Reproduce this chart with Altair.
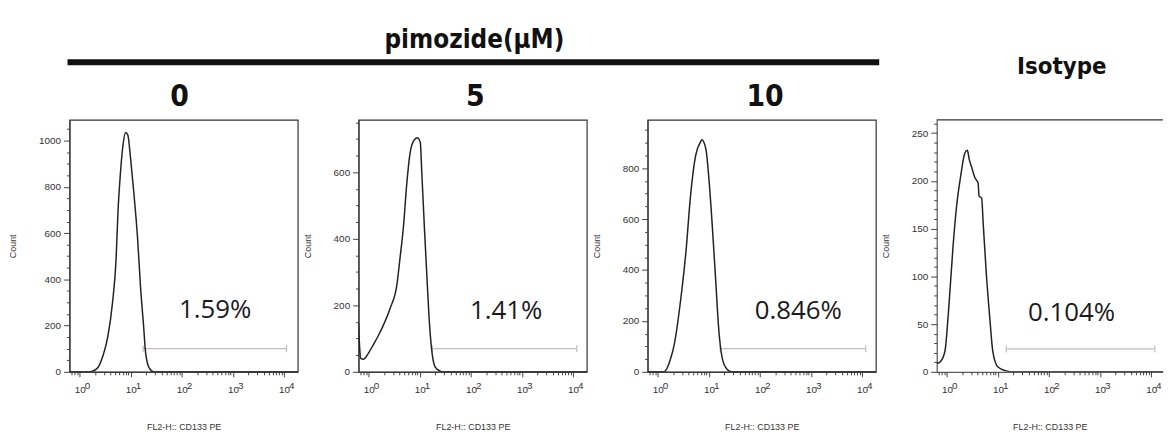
import altair as alt
import pandas as pd

# ---------------- data ----------------
header_title = "pimozide(μM)"
panel_titles = ["0", "5", "10", "Isotype"]
pct_labels = ["1.59%", "1.41%", "0.846%", "0.104%"]
x_title = "FL2-H:: CD133 PE"
y_title = "Count"

# decade tick labels (10^k) on the log axis
decade_fl = [1, 10, 100, 1000, 10000]
decade_exp = ["0", "1", "2", "3", "4"]

# histogram: FL2-H intensity (log axis) and event count
p1_fl = [0.63, 1.55, 2.24, 2.82, 3.55, 4.37, 5.13, 5.62, 6.17, 6.92, 7.94, 8.71,
         10.0, 11.5, 13.5, 15.5, 17.8, 19.5, 22.9, 28.2, 18600]
p1_count = [0, 0, 17, 67, 153, 297, 482, 697, 840, 968, 1035, 1025,
            912, 770, 584, 367, 197, 82, 17, 0, 0]

p2_fl = [0.63, 0.66, 0.70, 0.79, 1.0, 1.23, 1.55, 1.95, 2.63, 3.55, 4.07, 4.79, 5.50,
         6.46, 7.59, 8.91, 10.2, 10.9, 12.3, 13.8, 15.5, 17.4, 19.9, 24.5, 28.8, 18600]
p2_count = [145, 75, 40, 38, 58, 82, 110, 142, 192, 262, 340, 440, 560,
            660, 695, 704, 690, 600, 430, 280, 140, 55, 15, 3, 0, 0]

p3_fl = [0.63, 1.32, 1.78, 2.09, 2.82, 3.55, 4.37, 5.50, 6.92, 7.24, 8.71, 10.0,
         11.5, 13.5, 15.5, 18.2, 22.9, 28.2, 18600]
p3_count = [0, 0, 52, 107, 289, 472, 693, 850, 905, 912, 876, 758,
            589, 367, 172, 55, 9, 0, 0]

p4_fl = [0.63, 0.72, 0.91, 1.07, 1.32, 1.55, 1.86, 2.24, 2.51, 2.75, 3.02, 3.55,
         4.07, 4.27, 4.79, 5.13, 5.89, 6.92, 7.94, 10.0, 14.5, 20.0, 18600]
p4_count = [9, 10, 21, 62, 132, 174, 205, 229, 232, 222, 215, 203,
            198, 184, 182, 156, 104, 56, 21, 5, 1, 0, 0]

gate_lo = [17.4, 17.4, 16.6, 14.5]
gate_hi = [11200, 11800, 11800, 11800]
gate_level = [100, 70, 91, 24]

pct_fl = [447, 490, 562, 275]
pct_count = [266, 182, 238, 62]

y_max = [1090, 758, 990, 264]
y_major = [200, 200, 200, 50]
y_minor = [50, 50, 50, 10]
x_min = 0.63
x_max = [18600, 18600, 18600, 17000]

hist_fl = [p1_fl, p2_fl, p3_fl, p4_fl]
hist_count = [p1_count, p2_count, p3_count, p4_count]

# ---------------- styling ----------------
PANEL_W = [230, 230, 230, 228]
PANEL_H = 254
LINE_COLOR = "#222222"
GATE_COLOR = "#c6bcbc"
AXIS_FONT = "Liberation Sans"
HEAD_FONT = "DejaVu Sans Condensed, Open Sans"

x_ticks = [m * 10 ** k for k in range(-1, 5) for m in range(1, 10)
           if x_min <= m * 10 ** k <= 18600]
LOGV = "log(datum.value)/LN10"
IS_POW = f"abs({LOGV} - round({LOGV})) < 0.001"


def panel(i):
    hist = pd.DataFrame({"fl": hist_fl[i], "count": hist_count[i]})
    gate = pd.DataFrame({"fl": [gate_lo[i]], "fl2": [gate_hi[i]], "count": [gate_level[i]]})
    caps = pd.DataFrame({"fl": [gate_lo[i], gate_hi[i]], "count": [gate_level[i]] * 2})
    pct = pd.DataFrame({"fl": [pct_fl[i]], "count": [pct_count[i]], "label": [pct_labels[i]]})
    dec = pd.DataFrame({"fl": decade_fl, "exp": decade_exp})

    major, minor = y_major[i], y_minor[i]
    y_ticks = list(range(0, int(y_max[i]) + 1, minor))

    xaxis = alt.Axis(
        values=x_ticks, labelExpr=f"({IS_POW}) ? '10' : ''", labelOverlap=False,
        labelFlush=False, labelBound=False, labelAngle=0, labelAlign="center",
        labelBaseline="top", labelPadding=8, labelFontSize=10, labelColor="#333",
        tickSize={"condition": {"test": IS_POW, "value": 5}, "value": 3},
        tickColor="#444", domainColor="#333", grid=False,
        title=x_title, titleFontSize=9, titleFontWeight="normal", titleColor="#333",
        titlePadding=28,
    )
    yaxis = alt.Axis(
        values=y_ticks, format="d",
        labelExpr=f"datum.value % {major} == 0 ? datum.label : ''",
        labelOverlap=False, labelFontSize=10, labelColor="#333", labelPadding=3,
        tickSize={"condition": {"test": f"datum.value % {major} == 0", "value": 6}, "value": 3},
        tickColor="#444", domainColor="#333", grid=False,
        title=y_title, titleFontSize=9, titleFontWeight="normal", titleColor="#333",
        titlePadding=21,
    )
    X = alt.X("fl:Q", scale=alt.Scale(type="log", domain=[x_min, x_max[i]], nice=False), axis=xaxis)
    Y = alt.Y("count:Q", scale=alt.Scale(domain=[0, y_max[i]], nice=False), axis=yaxis)

    g = alt.Chart(gate).mark_rule(color=GATE_COLOR, strokeWidth=1.2).encode(x=X, x2="fl2:Q", y=Y)
    c = alt.Chart(caps).mark_tick(orient="vertical", size=7, thickness=1.2,
                                  color=GATE_COLOR, opacity=1).encode(x=X, y=Y)
    ln = alt.Chart(hist).mark_line(color=LINE_COLOR, strokeWidth=1.5,
                                   interpolate="monotone", clip=True).encode(x=X, y=Y)
    t = alt.Chart(pct).mark_text(font="Open Sans", fontSize=26, color="#1a1a1a",
                                 align="center", baseline="middle").encode(x=X, y=Y, text="label:N")
    ex = alt.Chart(dec).mark_text(font=AXIS_FONT, fontSize=10, color="#333", align="left",
                                  baseline="top", dx=5).encode(
        x=X, y=alt.value(PANEL_H + 9), text="exp:N")
    layers = [g, c, ln, t, ex]
    if i == 3:
        top = alt.Chart(pct).mark_rule(color="#333", strokeWidth=1.2).encode(
            x=alt.value(0), x2=alt.value(PANEL_W[i]), y=alt.value(0))
        layers.append(top)
        return alt.layer(*layers).properties(
            width=PANEL_W[i], height=PANEL_H,
            view=alt.ViewBackground(stroke="transparent"))
    return alt.layer(*layers).properties(width=PANEL_W[i], height=PANEL_H)


# ---------------- header ----------------
hdr_df = pd.DataFrame({"label": [header_title] + panel_titles})


def hdr_text(label, x, y, size):
    return alt.Chart(hdr_df).transform_filter(alt.datum.label == label).mark_text(
        font=HEAD_FONT, fontWeight="bold", fontSize=size, color="#111",
        align="center", baseline="middle").encode(
        text="label:N", x=alt.value(x), y=alt.value(y))


bar = alt.Chart(hdr_df).transform_filter(alt.datum.label == header_title).mark_rule(
    color="#111", strokeWidth=6).encode(x=alt.value(-2), x2=alt.value(816), y=alt.value(52))

header = alt.layer(
    bar,
    hdr_text(header_title, 408, 30, 26),
    hdr_text(panel_titles[0], 111, 87, 30),
    hdr_text(panel_titles[1], 409, 87, 30),
    hdr_text(panel_titles[2], 701, 87, 30),
    hdr_text(panel_titles[3], 1000, 57, 24),
).properties(width=1000, height=104, view=alt.ViewBackground(stroke="transparent"))

row = alt.hconcat(*[panel(i) for i in range(4)], spacing=61.3, bounds="flush")

chart = alt.vconcat(header, row, spacing=6, bounds="flush").properties(
    padding=0, background="white"
).configure_view(stroke="#333", strokeWidth=1.2).configure_axis(
    labelFont=AXIS_FONT, titleFont=AXIS_FONT
)

chart.save("out.html", embed_options={"renderer": "svg", "actions": False})
